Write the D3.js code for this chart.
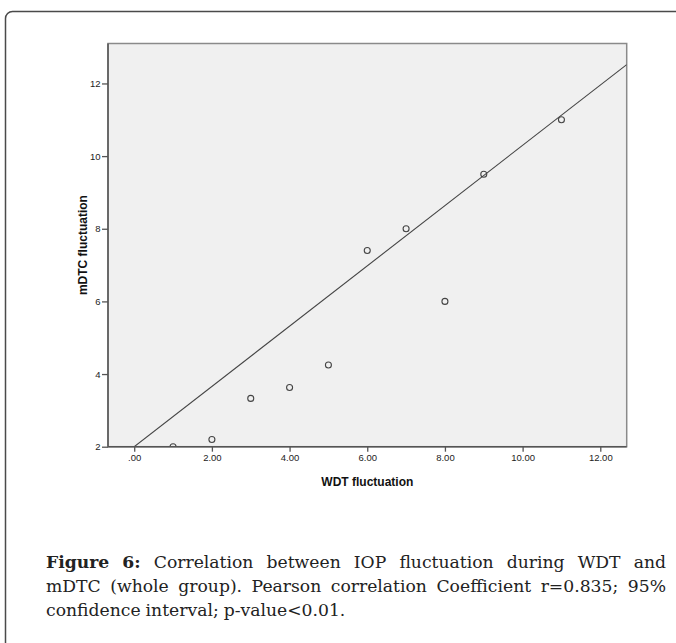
<!DOCTYPE html>
<html>
<head>
<meta charset="utf-8">
<script src="https://cdn.jsdelivr.net/npm/d3@7"></script>
<style>
  body { margin: 0; background: #fff; }
  svg { display: block; }
  .tick text { font-family: "Liberation Sans", Arial, sans-serif; font-size: 9.5px; fill: #222; }
  .axisTitle { font-family: "Liberation Sans", Arial, sans-serif; font-size: 12px; font-weight: bold; fill: #111; }
  .caption { font-family: "DejaVu Serif", serif; font-size: 17.2px; fill: #222; }
</style>
</head>
<body>
<div id="chart"></div>
<script>
// WDT fluctuation (x) vs mDTC fluctuation (y)
var wdt  = [1, 2, 3, 4, 5, 6, 7, 8, 9, 11];
var mdtc = [2.0, 2.2, 3.33, 3.63, 4.25, 7.4, 8.0, 6.0, 9.5, 11.0];

// reference line end points as drawn
var fitX = [0, 12.68];
var fitY = [2.0, 12.52];

var xTicks = [0, 2, 4, 6, 8, 10, 12];
var yTicks = [2, 4, 6, 8, 10, 12];

var captionLines = [
  ["Figure", "6:", "Correlation", "between", "IOP", "fluctuation", "during", "WDT", "and"],
  ["mDTC", "(whole", "group).", "Pearson", "correlation", "Coefficient", "r=0.835;", "95%"],
  ["confidence", "interval;", "p-value<0.01."]
];

var svgWidth = 676;
var svgHeight = 643;

var plot = { left: 108, top: 43.5, right: 626.7, bottom: 446.7 };

var svg = d3.select("#chart")
  .append("svg")
  .attr("width", svgWidth)
  .attr("height", svgHeight);

// outer frame (runs off the right and bottom edge)
svg.append("rect")
  .attr("x", 5.5)
  .attr("y", 11.5)
  .attr("width", 700)
  .attr("height", 700)
  .attr("rx", 7)
  .attr("fill", "none")
  .attr("stroke", "#4a4a4a")
  .attr("stroke-width", 1.5);

var x = d3.scaleLinear()
  .domain([-0.675, 12.68])
  .range([plot.left, plot.right]);

var y = d3.scaleLinear()
  .domain([2, 13.1])
  .range([plot.bottom, plot.top]);

svg.append("defs").append("clipPath")
  .attr("id", "clip")
  .append("rect")
  .attr("x", plot.left)
  .attr("y", plot.top)
  .attr("width", plot.right - plot.left)
  .attr("height", plot.bottom - plot.top);

svg.append("rect")
  .attr("x", plot.left)
  .attr("y", plot.top)
  .attr("width", plot.right - plot.left)
  .attr("height", plot.bottom - plot.top)
  .attr("fill", "#f0f0f0")
  .attr("stroke", "#8a8a8a")
  .attr("stroke-width", 1.5);

var inner = svg.append("g").attr("clip-path", "url(#clip)");

var line = d3.line()
  .x(d => x(d[0]))
  .y(d => y(d[1]));

inner.append("path")
  .datum(d3.zip(fitX, fitY))
  .attr("d", line)
  .attr("fill", "none")
  .attr("stroke", "#444")
  .attr("stroke-width", 1.1);

inner.selectAll("circle")
  .data(d3.zip(wdt, mdtc))
  .enter()
  .append("circle")
  .attr("cx", d => x(d[0]))
  .attr("cy", d => y(d[1]))
  .attr("r", 3)
  .attr("fill", "none")
  .attr("stroke", "#444")
  .attr("stroke-width", 1.1);

var bottomAxis = d3.axisBottom(x)
  .tickValues(xTicks)
  .tickSize(5)
  .tickPadding(3)
  .tickFormat(d => d === 0 ? ".00" : d3.format(".2f")(d));

var leftAxis = d3.axisLeft(y)
  .tickValues(yTicks)
  .tickSize(6)
  .tickPadding(1.5)
  .tickFormat(d3.format("d"));

var gx = svg.append("g")
  .attr("transform", `translate(0, ${plot.bottom})`)
  .call(bottomAxis);

var gy = svg.append("g")
  .attr("transform", `translate(${plot.left}, 0)`)
  .call(leftAxis);

[gx, gy].forEach(function(g) {
  g.select(".domain").attr("stroke", "#555").attr("stroke-width", 1.5);
  g.selectAll(".tick line").attr("stroke", "#555").attr("stroke-width", 1.3);
});
gx.select(".domain").attr("d", `M${plot.left},0H${plot.right}`);
gy.select(".domain").attr("d", `M0,${plot.bottom}V${plot.top}`);

svg.append("text")
  .attr("class", "axisTitle")
  .attr("x", (plot.left + plot.right) / 2)
  .attr("y", 486)
  .attr("text-anchor", "middle")
  .text("WDT fluctuation");

svg.append("text")
  .attr("class", "axisTitle")
  .attr("transform", `translate(86.5, ${(plot.top + plot.bottom) / 2}) rotate(-90)`)
  .attr("text-anchor", "middle")
  .text("mDTC fluctuation");

// caption, justified line by line
var capLeft = 46, capRight = 666, capTop = 568, capStep = 24;

captionLines.forEach(function(words, i) {
  var g = svg.append("g");
  var nodes = words.map(function(w, j) {
    return g.append("text")
      .attr("class", "caption")
      .attr("y", capTop + i * capStep)
      .style("font-weight", (i === 0 && j < 2) ? "bold" : "normal")
      .text(w);
  });
  var widths = nodes.map(n => n.node().getComputedTextLength());
  var total = d3.sum(widths);
  var last = i === captionLines.length - 1;
  var gap = last ? 5 : (capRight - capLeft - total) / (words.length - 1);
  var pos = capLeft;
  nodes.forEach(function(n, j) {
    n.attr("x", pos);
    pos += widths[j] + gap;
  });
});
</script>
</body>
</html>
